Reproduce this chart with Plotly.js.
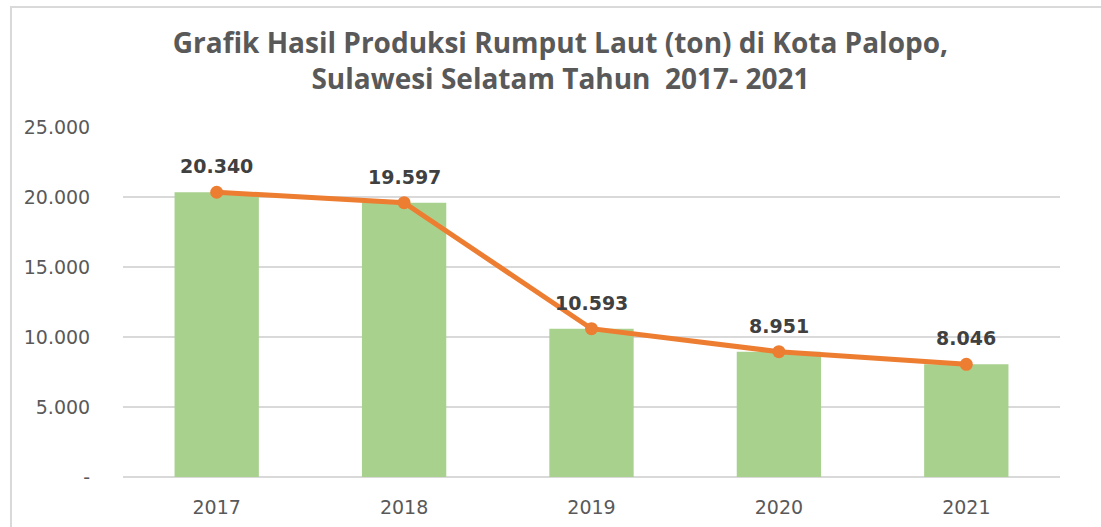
<!DOCTYPE html>
<html>
<head>
<meta charset="utf-8">
<script src="https://cdn.plot.ly/plotly-3.0.1.min.js"></script>
<style>
  html, body { margin: 0; padding: 0; background: #fff; }
  #wrap { position: relative; width: 1101px; height: 527px; overflow: hidden; }
  #chart { width: 1101px; height: 527px; }
  #frame { position: absolute; left: 10px; top: 6px; width: 1200px; height: 600px;
           border-left: 2px solid #d9d9d9; border-top: 2px solid #d9d9d9; pointer-events: none; }
</style>
</head>
<body>
<div id="wrap">
  <div id="chart"></div>
  <div id="frame"></div>
</div>
<script>
const years = ['2017', '2018', '2019', '2020', '2021'];
const production = [20340, 19597, 10593, 8951, 8046];
const labels = ['20.340', '19.597', '10.593', '8.951', '8.046'];
const yTickVals = [0, 5000, 10000, 15000, 20000, 25000];
const yTickText = ['-', '5.000', '10.000', '15.000', '20.000', '25.000'];

const bars = {
  type: 'bar', x: years, y: production, width: 0.45,
  marker: { color: '#a9d18e' }, hoverinfo: 'skip', showlegend: false
};
const line = {
  type: 'scatter', mode: 'lines+markers', x: years, y: production,
  line: { color: '#ed7d31', width: 5 },
  marker: { color: '#ed7d31', size: 13 },
  hoverinfo: 'skip', showlegend: false
};

const annotations = years.map((yr, i) => ({
  x: i, y: production[i], text: labels[i], showarrow: false,
  yshift: 26, font: { family: 'DejaVu Sans, Verdana, sans-serif', size: 19, color: '#404040', weight: 'bold' }
}));

const layout = {
  width: 1101, height: 527,
  margin: { l: 123, r: 41, t: 127, b: 50 },
  paper_bgcolor: '#fff', plot_bgcolor: '#fff',
  title: {
    text: '<b>Grafik Hasil Produksi Rumput Laut (ton) di Kota Palopo,<br>Sulawesi Selatam Tahun  2017- 2021</b>',
    font: { family: 'Open Sans, sans-serif', size: 28, color: '#595959' },
    x: 0.509, xref: 'container', xanchor: 'center',
    y: 1 - 53 / 527, yref: 'container', yanchor: 'top'
  },
  xaxis: {
    type: 'category', range: [-0.5, 4.5], showgrid: false, zeroline: false, showline: false,
    ticks: 'outside', ticklen: 13, tickcolor: 'rgba(0,0,0,0)',
    tickfont: { family: 'DejaVu Sans, Verdana, sans-serif', size: 19, color: '#595959' }
  },
  yaxis: {
    range: [0, 25000], tickvals: yTickVals, ticktext: yTickText,
    showgrid: true, gridcolor: '#d9d9d9', gridwidth: 2,
    zeroline: true, zerolinecolor: '#d9d9d9', zerolinewidth: 2, showline: false,
    ticks: 'outside', ticklen: 28, tickcolor: 'rgba(0,0,0,0)',
    tickfont: { family: 'DejaVu Sans, Verdana, sans-serif', size: 19, color: '#595959' }
  },
  annotations: annotations
};

Plotly.newPlot('chart', [bars, line], layout, { displayModeBar: false, staticPlot: true });
</script>
</body>
</html>
